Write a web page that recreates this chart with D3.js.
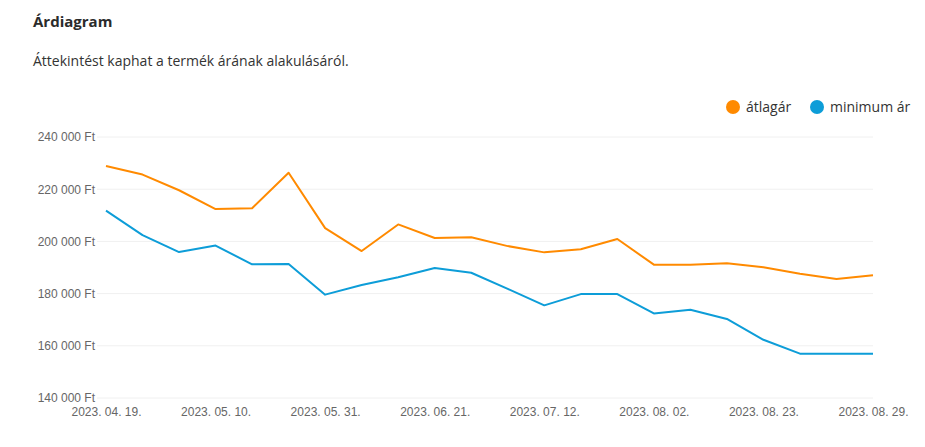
<!DOCTYPE html>
<html>
<head>
<meta charset="utf-8">
<script src="https://cdn.jsdelivr.net/npm/d3@7"></script>
<style>
  body { margin: 0; background: #fff; font-family: "Open Sans", sans-serif; }
  svg { display: block; }
</style>
</head>
<body>
<div id="chart"></div>
<script>
// dates of the price samples
var dates = ["2023. 04. 19.", "2023. 04. 26.", "2023. 05. 03.", "2023. 05. 10.", "2023. 05. 17.", "2023. 05. 24.",
  "2023. 05. 31.", "2023. 06. 07.", "2023. 06. 14.", "2023. 06. 21.", "2023. 06. 28.", "2023. 07. 05.",
  "2023. 07. 12.", "2023. 07. 19.", "2023. 07. 26.", "2023. 08. 02.", "2023. 08. 09.", "2023. 08. 16.",
  "2023. 08. 23.", "2023. 08. 25.", "2023. 08. 27.", "2023. 08. 29."]

var avgPrice = [228900, 225600, 219600, 212400, 212700, 226300, 205100, 196300, 206500, 201300, 201600,
  198200, 195800, 197000, 200900, 191100, 191100, 191600, 190100, 187600, 185600, 187000]

var minPrice = [211800, 202400, 195900, 198400, 191200, 191300, 179600, 183300, 186300, 189800, 188000,
  181800, 175500, 179800, 179800, 172400, 173800, 170300, 162300, 157000, 157000, 157000]

var yTicks = [140000, 160000, 180000, 200000, 220000, 240000]
var xTickLabels = ["2023. 04. 19.", "2023. 05. 10.", "2023. 05. 31.", "2023. 06. 21.", "2023. 07. 12.",
  "2023. 08. 02.", "2023. 08. 23.", "2023. 08. 29."]

var seriesNames = ["átlagár", "minimum ár"]
var seriesColors = ["#ff8a00", "#0d9dd8"]

var width = 925, height = 447

var svg = d3.select("#chart").append("svg")
    .attr("width", width)
    .attr("height", height)

// heading
svg.append("text").text("Árdiagram")
    .attr("x", 33).attr("y", 27)
    .style("font-family", "'Open Sans', sans-serif")
    .style("font-size", "15px").style("font-weight", "700")
    .style("fill", "#2b2b2b")

svg.append("text").text("Áttekintést kaphat a termék árának alakulásáról.")
    .attr("x", 33).attr("y", 65.5)
    .style("font-family", "'Open Sans', sans-serif")
    .style("font-size", "14px")
    .style("fill", "#333")

// scales
var x = d3.scalePoint()
    .domain(dates)
    .range([106, 873])

var y = d3.scaleLinear()
    .domain([140000, 240000])
    .range([398, 137])

var fmt = function(d) { return d3.format(",")(d).replace(/,/g, " ") + " Ft" }

// y axis + grid
var yAxis = svg.append("g")
    .attr("transform", "translate(97,0)")
    .call(d3.axisLeft(y).tickValues(yTicks).tickFormat(fmt).tickSize(0).tickPadding(2))
yAxis.select(".domain").remove()
yAxis.selectAll("text")
    .style("font-family", "'Liberation Sans', Arial, sans-serif")
    .style("font-size", "12px")
    .style("fill", "#666")

svg.append("g").selectAll("line")
    .data(yTicks)
  .enter().append("line")
    .attr("x1", 97).attr("x2", 873)
    .attr("y1", function(d) { return y(d) })
    .attr("y2", function(d) { return y(d) })
    .style("stroke", "#f0f0f0")
    .style("stroke-width", 1)

// x axis
var xAxis = svg.append("g")
    .attr("transform", "translate(0,404)")
    .call(d3.axisBottom(x).tickValues(xTickLabels).tickSize(0).tickPadding(3))
xAxis.select(".domain").remove()
xAxis.selectAll("text")
    .style("font-family", "'Liberation Sans', Arial, sans-serif")
    .style("font-size", "12px")
    .style("fill", "#666")

// lines
var series = [avgPrice, minPrice]
var line = d3.line()
    .x(function(d, i) { return x(dates[i]) })
    .y(function(d) { return y(d) })

svg.append("g").selectAll("path")
    .data(series)
  .enter().append("path")
    .attr("d", line)
    .style("fill", "none")
    .style("stroke", function(d, i) { return seriesColors[i] })
    .style("stroke-width", 2)
    .style("stroke-linejoin", "round")

// legend
var legendX = [733, 817]
var legend = svg.append("g").selectAll("g")
    .data(seriesNames)
  .enter().append("g")
    .attr("transform", function(d, i) { return "translate(" + legendX[i] + ",107)" })

legend.append("circle")
    .attr("r", 7)
    .style("fill", function(d, i) { return seriesColors[i] })

legend.append("text")
    .text(function(d) { return d })
    .attr("x", 13).attr("y", 5)
    .style("font-family", "'Open Sans', sans-serif")
    .style("font-size", "14px")
    .style("fill", "#333")
</script>
</body>
</html>
